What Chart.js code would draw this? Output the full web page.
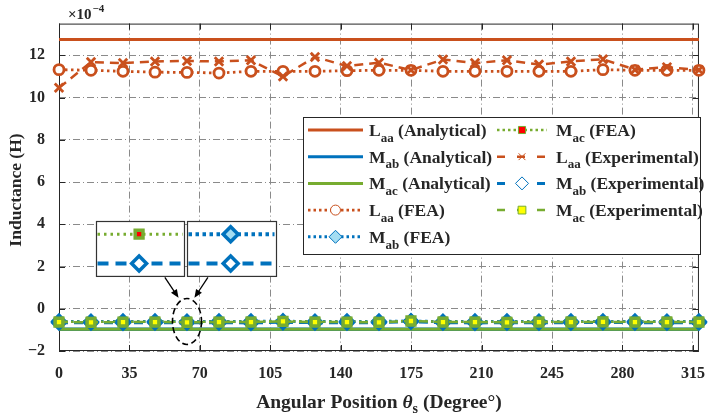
<!DOCTYPE html>
<html>
<head>
<meta charset="utf-8">
<script src="https://cdn.jsdelivr.net/npm/chart.js@4.4.0/dist/chart.umd.min.js"></script>
<style>
  html, body { margin: 0; padding: 0; background: #fff; }
  #wrap { width: 718px; height: 417px; }
</style>
</head>
<body>
<div id="wrap"><canvas id="myChart" width="718" height="417"></canvas></div>
<script>
// rotor angle samples (deg)
const angles = [0, 15.9, 31.8, 47.7, 63.6, 79.5, 95.4, 111.3, 127.2, 143.1, 159,
                174.9, 190.8, 206.7, 222.6, 238.5, 254.4, 270.3, 286.2, 302.1, 318];

// inductances, x1e-4 H
const laaAnalytical = 12.75;
const mabAnalytical = -0.97;
const macAnalytical = -0.97;

const laaFea = [11.32, 11.29, 11.24, 11.20, 11.19, 11.16, 11.24, 11.24, 11.24, 11.27, 11.29,
                11.29, 11.24, 11.24, 11.24, 11.24, 11.24, 11.32, 11.29, 11.29, 11.29];
const mabFea = [-0.60, -0.61, -0.60, -0.60, -0.61, -0.60, -0.60, -0.59, -0.61, -0.60, -0.60,
                -0.58, -0.61, -0.60, -0.60, -0.61, -0.60, -0.60, -0.60, -0.61, -0.60];
const macFea = [-0.61, -0.61, -0.62, -0.61, -0.61, -0.62, -0.61, -0.59, -0.61, -0.62, -0.61,
                -0.58, -0.61, -0.61, -0.62, -0.61, -0.61, -0.61, -0.62, -0.61, -0.61];

const laaExp = [10.46, 11.68, 11.63, 11.71, 11.73, 11.71, 11.76, 11.00, 11.92, 11.49, 11.65,
                11.30, 11.80, 11.63, 11.76, 11.56, 11.71, 11.81, 11.32, 11.44, 11.30];
const mabExp = [-0.66, -0.66, -0.67, -0.66, -0.66, -0.66, -0.67, -0.64, -0.66, -0.66, -0.66,
                -0.61, -0.66, -0.67, -0.66, -0.66, -0.66, -0.65, -0.66, -0.66, -0.66];
const macExp = [-0.63, -0.64, -0.63, -0.63, -0.64, -0.63, -0.63, -0.60, -0.63, -0.63, -0.64,
                -0.58, -0.63, -0.63, -0.64, -0.63, -0.63, -0.62, -0.63, -0.63, -0.63];

const xTicks = [0, 35, 70, 105, 140, 175, 210, 245, 280, 315];
const yTicks = [-2, 0, 2, 4, 6, 8, 10, 12];

const ORANGE = '#C9501D';
const BLUE = '#0072BD';
const LIGHTBLUE = '#A4DDF2';
const GREEN = '#77AC30';
const INK = '#262626';
const SERIF = '"Liberation Serif", "Times New Roman", serif';

const DOT = [2.5, 3.5];
const DASH = [9, 6];

const pts = ys => angles.map((a, i) => ({ x: a, y: ys[i] }));
const flat = v => angles.map(a => ({ x: a, y: v }));

const series = [
  { sym: 'L', sub: 'aa', tag: '(Analytical)', data: flat(laaAnalytical), borderColor: ORANGE, borderWidth: 3, pointRadius: 0 },
  { sym: 'M', sub: 'ab', tag: '(Analytical)', data: flat(mabAnalytical), borderColor: BLUE, borderWidth: 3.5, pointRadius: 0 },
  { sym: 'M', sub: 'ac', tag: '(Analytical)', data: flat(macAnalytical), borderColor: GREEN, borderWidth: 3, pointRadius: 0 },
  { sym: 'L', sub: 'aa', tag: '(FEA)', data: pts(laaFea), borderColor: ORANGE, borderWidth: 2.8, borderDash: DOT,
    pointStyle: 'circle', pointRadius: 5, pointBorderWidth: 2.8, pointBackgroundColor: '#fff', pointBorderColor: ORANGE },
  { sym: 'M', sub: 'ab', tag: '(FEA)', data: pts(mabFea), borderColor: BLUE, borderWidth: 3, borderDash: DOT,
    pointStyle: 'rectRot', pointRadius: 6.5, pointBorderWidth: 3, pointBackgroundColor: LIGHTBLUE, pointBorderColor: BLUE },
  { sym: 'M', sub: 'ac', tag: '(FEA)', data: pts(macFea), borderColor: GREEN, borderWidth: 2.5, borderDash: DOT,
    pointStyle: 'rect', pointRadius: 5, pointBorderWidth: 3, pointBackgroundColor: '#FF0000', pointBorderColor: GREEN },
  { sym: 'L', sub: 'aa', tag: '(Experimental)', data: pts(laaExp), borderColor: ORANGE, borderWidth: 2.5, borderDash: DASH,
    pointStyle: 'crossRot', pointRadius: 6, pointBorderWidth: 2.8, pointBorderColor: ORANGE },
  { sym: 'M', sub: 'ab', tag: '(Experimental)', data: pts(mabExp), borderColor: BLUE, borderWidth: 3, borderDash: DASH,
    pointStyle: 'rectRot', pointRadius: 6.5, pointBorderWidth: 3, pointBackgroundColor: '#fff', pointBorderColor: BLUE },
  { sym: 'M', sub: 'ac', tag: '(Experimental)', data: pts(macExp), borderColor: GREEN, borderWidth: 2.5, borderDash: DASH,
    pointStyle: 'rect', pointRadius: 5.5, pointBorderWidth: 3.5, pointBackgroundColor: '#FFFF00', pointBorderColor: GREEN }
];

const datasets = series.map((s, i) => Object.assign({
  label: s.sym + s.sub + ' ' + s.tag,
  fill: false,
  tension: 0,
  clip: false,
  order: series.length - i
}, s));

const drawMarker = (ctx, ds, x, y, scale) => {
  if (!ds.pointRadius) return;
  ctx.save();
  ctx.setLineDash([]);
  ctx.fillStyle = ds.pointBackgroundColor || 'rgba(0,0,0,0)';
  ctx.strokeStyle = ds.pointBorderColor;
  Chart.helpers.drawPoint(ctx, {
    pointStyle: ds.pointStyle,
    radius: ds.pointRadius * (scale || 1),
    rotation: 0,
    borderWidth: ds.pointBorderWidth * (scale || 1)
  }, x, y);
  ctx.restore();
};

const drawSegment = (ctx, ds, x1, x2, y, width, dash) => {
  ctx.save();
  ctx.strokeStyle = ds.borderColor;
  ctx.lineWidth = width || ds.borderWidth;
  ctx.setLineDash(dash || ds.borderDash || []);
  ctx.beginPath();
  ctx.moveTo(x1, y);
  ctx.lineTo(x2, y);
  ctx.stroke();
  ctx.restore();
};

// L_aa, M_ab style label: main letter, subscript, then tag
const drawSubLabel = (ctx, x, y, sym, sub, tail, size) => {
  ctx.font = 'bold ' + size + 'px ' + SERIF;
  ctx.fillText(sym, x, y);
  x += ctx.measureText(sym).width;
  ctx.font = 'bold ' + Math.round(size * 0.72) + 'px ' + SERIF;
  ctx.fillText(sub, x, y + size * 0.33);
  x += ctx.measureText(sub).width;
  ctx.font = 'bold ' + size + 'px ' + SERIF;
  ctx.fillText(tail, x, y);
};

const frame = {
  id: 'frame',
  beforeDatasetsDraw(chart) {
    const { ctx, chartArea: a, scales } = chart;
    ctx.save();
    ctx.strokeStyle = INK;
    ctx.lineWidth = 1;
    ctx.strokeRect(a.left + 0.5, a.top + 0.5, a.right - a.left - 1, a.bottom - a.top - 1);
    ctx.beginPath();
    xTicks.forEach(v => {
      const x = Math.round(scales.x.getPixelForValue(v)) + 0.5;
      ctx.moveTo(x, a.bottom); ctx.lineTo(x, a.bottom - 6);
      ctx.moveTo(x, a.top); ctx.lineTo(x, a.top + 6);
    });
    yTicks.forEach(v => {
      const y = Math.round(scales.y.getPixelForValue(v)) + 0.5;
      ctx.moveTo(a.left, y); ctx.lineTo(a.left + 6, y);
      ctx.moveTo(a.right, y); ctx.lineTo(a.right - 6, y);
    });
    ctx.stroke();
    ctx.restore();
  }
};

// zoomed views of the mutual inductance traces near 64 deg
const inset = {
  id: 'inset',
  afterDatasetsDraw(chart) {
    const { ctx, scales } = chart;
    const X = v => scales.x.getPixelForValue(v);
    const Y = v => scales.y.getPixelForValue(v);
    const ds = chart.data.datasets;
    const boxes = [
      { x0: 18.4, x1: 62.2, mx: 39.8, top: ds[5], bottom: ds[7] },
      { x0: 63.8, x1: 107.8, mx: 85.3, top: ds[4], bottom: ds[7] }
    ];
    const yTop = Y(4.14), yBot = Y(1.54);
    const rowA = Y(3.53), rowB = Y(2.14);
    boxes.forEach(b => {
      const l = Math.round(X(b.x0)) + 0.5, r = Math.round(X(b.x1)) + 0.5;
      const blueTop = b.top === ds[4];
      ctx.save();
      ctx.fillStyle = '#fff';
      ctx.fillRect(l, yTop, r - l, yBot - yTop);
      drawSegment(ctx, b.top, l + 1, r - 2, rowA, blueTop ? 4 : 3, blueTop ? [3.5, 3.5] : [2.5, 4]);
      drawSegment(ctx, b.bottom, l + 1, r - 1, rowB, 4, [11, 7]);
      drawMarker(ctx, b.top, X(b.mx), rowA, blueTop ? 1.15 : 1.1);
      drawMarker(ctx, b.bottom, X(b.mx), rowB, 1.15);
      ctx.strokeStyle = '#333';
      ctx.lineWidth = 1.2;
      ctx.setLineDash([]);
      ctx.strokeRect(l, Math.round(yTop) + 0.5, r - l, yBot - yTop);
      ctx.restore();
    });

    // pointer arrows and dashed ring round one sample
    const arrow = (x1, y1, x2, y2) => {
      const ang = Math.atan2(y2 - y1, x2 - x1);
      ctx.beginPath();
      ctx.moveTo(x1, y1);
      ctx.lineTo(x2 - 6 * Math.cos(ang), y2 - 6 * Math.sin(ang));
      ctx.stroke();
      ctx.beginPath();
      ctx.moveTo(x2, y2);
      ctx.lineTo(x2 - 9 * Math.cos(ang - 0.4), y2 - 9 * Math.sin(ang - 0.4));
      ctx.lineTo(x2 - 9 * Math.cos(ang + 0.4), y2 - 9 * Math.sin(ang + 0.4));
      ctx.closePath();
      ctx.fill();
    };
    ctx.save();
    ctx.strokeStyle = '#000';
    ctx.fillStyle = '#000';
    ctx.lineWidth = 1.3;
    arrow(X(52.6), Y(1.49), X(59.4), Y(0.52));
    arrow(X(74.0), Y(1.49), X(67.3), Y(0.52));
    ctx.setLineDash([6, 3.5]);
    ctx.lineWidth = 1.6;
    ctx.beginPath();
    ctx.ellipse(X(63.6), Y(-0.6), 14.5, 23, 0, 0, Math.PI * 2);
    ctx.stroke();
    ctx.restore();
  }
};

const annotations = {
  id: 'annotations',
  afterDraw(chart) {
    const { ctx, chartArea: a } = chart;
    ctx.save();
    ctx.fillStyle = INK;
    ctx.textBaseline = 'alphabetic';

    // legend
    const lx = 303.5, ly = 117.5, lw = 397, lh = 137;
    ctx.fillStyle = '#fff';
    ctx.fillRect(lx, ly, lw, lh);
    ctx.strokeStyle = INK;
    ctx.lineWidth = 1;
    ctx.strokeRect(lx, ly, lw, lh);
    const cols = [{ l0: 308, l1: 363, tx: 369 }, { l0: 497, l1: 547, tx: 556 }];
    chart.data.datasets.forEach((ds, i) => {
      const c = cols[i < 5 ? 0 : 1];
      const row = i < 5 ? i : i - 5;
      const y = 130 + row * 26.7;
      drawSegment(ctx, ds, c.l0, c.l1, y, Math.min(ds.borderWidth, 3), ds.borderDash ? (ds.borderDash === DASH ? [8, 12] : [2.5, 3]) : []);
      drawMarker(ctx, ds, (c.l0 + c.l1) / 2, y, ds.pointStyle === 'crossRot' ? 0.8 : 1);
      ctx.fillStyle = INK;
      ctx.textAlign = 'left';
      drawSubLabel(ctx, c.tx, y + 6, ds.sym, ds.sub, ' ' + ds.tag, 17.5);
    });

    // x axis title
    ctx.fillStyle = INK;
    ctx.textAlign = 'left';
    const size = 19.5;
    const parts = [
      { t: 'Angular Position ', f: 'bold ' + size + 'px ' + SERIF, dy: 0 },
      { t: '\u03B8', f: 'italic bold ' + size + 'px ' + SERIF, dy: 0 },
      { t: 's', f: 'bold ' + Math.round(size * 0.72) + 'px ' + SERIF, dy: 5 },
      { t: ' (Degree\u00B0)', f: 'bold ' + size + 'px ' + SERIF, dy: 0 }
    ];
    let total = 0;
    parts.forEach(p => { ctx.font = p.f; p.w = ctx.measureText(p.t).width; total += p.w; });
    let x = (a.left + a.right) / 2 - total / 2;
    parts.forEach(p => { ctx.font = p.f; ctx.fillText(p.t, x, 408 + p.dy); x += p.w; });

    // y axis title
    ctx.save();
    ctx.translate(21, 190);
    ctx.rotate(-Math.PI / 2);
    ctx.textAlign = 'center';
    ctx.font = 'bold 17.5px ' + SERIF;
    ctx.fillText('Inductance (H)', 0, 0);
    ctx.restore();

    // exponent
    ctx.textAlign = 'left';
    ctx.font = 'bold 15px ' + SERIF;
    ctx.fillText('\u00D710', 68, 19);
    const ew = ctx.measureText('\u00D710').width;
    ctx.font = 'bold 11px ' + SERIF;
    ctx.fillText('\u22124', 68 + ew + 1, 12);
    ctx.restore();
  }
};

const tickFont = { family: SERIF, size: 16, weight: 'bold' };
const gridOpts = { color: '#8a8a8a', lineWidth: 1, drawTicks: false, tickLength: 0 };

const ctx = document.getElementById('myChart').getContext('2d');
const myChart = new Chart(ctx, {
  type: 'line',
  data: { datasets },
  options: {
    responsive: false,
    animation: false,
    events: [],
    layout: { padding: { top: 23, right: 6.5, left: 0, bottom: 0 } },
    plugins: { legend: { display: false }, tooltip: { enabled: false } },
    scales: {
      x: {
        type: 'linear', min: 0, max: 318,
        afterBuildTicks: s => { s.ticks = xTicks.map(v => ({ value: v })); },
        afterFit: s => { s.height = 66; },
        grid: gridOpts,
        border: { display: false, dash: [7, 3, 1, 3] },
        ticks: { font: tickFont, color: INK, padding: 13, maxRotation: 0, autoSkip: false }
      },
      y: {
        type: 'linear', min: -2, max: 13.5,
        afterBuildTicks: s => { s.ticks = yTicks.map(v => ({ value: v })); },
        afterFit: s => { s.width = 59; },
        grid: gridOpts,
        border: { display: false, dash: [7, 3, 1, 3] },
        ticks: {
          font: tickFont, color: INK, padding: 14, autoSkip: false,
          callback: v => String(v).replace('-', '\u2212')
        }
      }
    }
  },
  plugins: [frame, inset, annotations]
});
</script>
</body>
</html>
